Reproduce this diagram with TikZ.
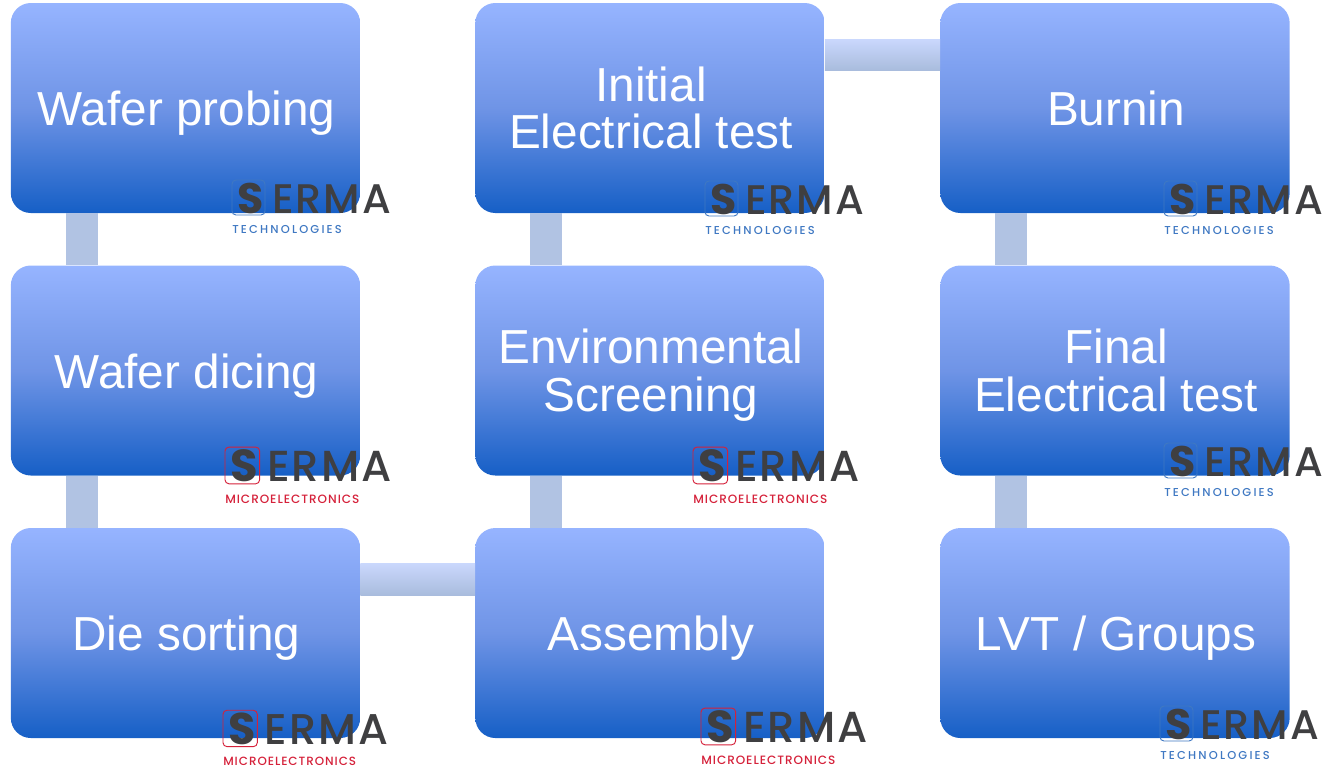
\documentclass[tikz,border=0pt]{standalone}
\usepackage{fontspec}
\setmainfont{Liberation Sans}
\newfontfamily\logobold{Poppins Bold}
\newfontfamily\logofont[LetterSpace=4.5]{Poppins Medium}
\newfontfamily\subblue[LetterSpace=19]{Poppins Medium}
\newfontfamily\subred[LetterSpace=8]{Poppins Medium}
\usetikzlibrary{calc}
\definecolor{boxtop}{HTML}{96B4FF}
\definecolor{boxmid}{HTML}{6F94E6}
\definecolor{boxbot}{HTML}{165FC6}
\definecolor{bartop}{HTML}{C9D7FC}
\definecolor{barbot}{HTML}{A9BCDD}
\definecolor{barflat}{HTML}{B1C3E3}
\definecolor{logogrey}{HTML}{3F3F41}
\definecolor{logoblue}{HTML}{3F78C2}
\definecolor{logored}{HTML}{D5213A}
\pgfdeclareverticalshading{boxshade}{100bp}{color(0bp)=(boxbot);color(25bp)=(boxbot);color(50bp)=(boxmid);color(75bp)=(boxtop);color(100bp)=(boxtop)}
\newcommand{\tl}[1]{\hspace*{1.5pt}\rule[-9pt]{0pt}{43.5pt}#1}
\newcommand{\ts}[1]{\hspace*{1.5pt}\rule[-9pt]{0pt}{44.5pt}#1}
\newcommand{\stepfont}{\fontsize{35.8}{35.7}\selectfont\lineskiplimit=-30pt\lineskip=0pt }
\tikzset{
  x=0.75pt,y=-0.75pt,
  stepbox/.style={minimum width=262.0pt,minimum height=157.5pt,inner sep=0pt,rounded corners=15pt,
    shading=boxshade,text=white,font=\stepfont,align=center},
  hbar/.style={top color=bartop,bottom color=barbot,draw=none},
  vbar/.style={fill=barflat,draw=none},
  logoS/.style={inner sep=0pt,anchor=base west,font=\logobold\fontsize{32}{32}\selectfont,text=logogrey},
  logoword/.style={inner sep=0pt,anchor=base west,font=\logofont\fontsize{31}{31}\selectfont,text=logogrey},
  logosub/.style={inner sep=0pt,anchor=base west,font=\fontsize{8.6}{9}\selectfont},
}
% name, x, y of the logo's left end and mid height, colour, subtitle font+text, scale, subtitle offset
\newcommand{\serma}[7]{%
  \begin{scope}[shift={(#2,#3)},scale=#6,transform shape]
  \node[logoS] (#1S) at (5,14) {S};
  \node[logoword] (#1w) at (40,14) {ERMA};
  \draw[#4,line width=0.7pt,rounded corners=3pt] ($(#1S.base west)+(-5,-33)$) rectangle ($(#1S.base west)+(28,2)$);
  \node[logosub,text=#4] (#1s) at ($(#1S.base west)+(-5,#7)$) {#5};
  \end{scope}
}
\begin{document}
\begin{tikzpicture}
\useasboundingbox (0,0) rectangle (1327,769);
\node[stepbox] (wp) at (185.5,108) {\ts{Wafer probing}};
\node[stepbox] (wd) at (185.5,370.5) {\ts{Wafer dicing}};
\node[stepbox] (ds) at (185.5,633) {\ts{Die sorting}};
\node[stepbox] (ie) at (650,108) {\tl{Initial}\\\tl{Electrical test}};
\node[stepbox] (es) at (650,370.5) {\tl{Environmental}\\\tl{Screening}};
\node[stepbox] (as) at (650,633) {\ts{Assembly}};
\node[stepbox] (bu) at (1115,108) {\ts{Burnin}};
\node[stepbox] (fe) at (1115,370.5) {\tl{Final}\\\tl{Electrical test}};
\node[stepbox] (lv) at (1115,633) {\ts{LVT / Groups}};
\path[vbar] ($(wp.south west)+(55,0)$) rectangle ($(wd.north west)+(87,0)$);
\path[vbar] ($(wd.south west)+(55,0)$) rectangle ($(ds.north west)+(87,0)$);
\path[vbar] ($(ie.south west)+(55,0)$) rectangle ($(es.north west)+(87,0)$);
\path[vbar] ($(es.south west)+(55,0)$) rectangle ($(as.north west)+(87,0)$);
\path[vbar] ($(bu.south west)+(55,0)$) rectangle ($(fe.north west)+(87,0)$);
\path[vbar] ($(fe.south west)+(55,0)$) rectangle ($(lv.north west)+(87,0)$);
\path[hbar] ($(ds.north east)+(0,36)$) rectangle ($(as.north west)+(0,67.5)$);
\path[hbar] ($(ie.north east)+(0,37)$) rectangle ($(bu.north west)+(0,67.5)$);
\serma{l1}{232}{199}{logoblue}{\subblue TECHNOLOGIES}{1}{20}
\serma{l2}{225}{467}{logored}{\subred MICROELECTRONICS}{1.05}{20.5}
\serma{l3}{223}{730}{logored}{\subred MICROELECTRONICS}{1.04}{20.5}
\serma{l4}{705}{200}{logoblue}{\subblue TECHNOLOGIES}{1}{20}
\serma{l5}{693}{467}{logored}{\subred MICROELECTRONICS}{1.05}{20.5}
\serma{l6}{701}{728}{logored}{\subred MICROELECTRONICS}{1.05}{20.5}
\serma{l7}{1164}{200}{logoblue}{\subblue TECHNOLOGIES}{1}{20}
\serma{l8}{1164}{462}{logoblue}{\subblue TECHNOLOGIES}{1}{20}
\serma{l9}{1160}{725}{logoblue}{\subblue TECHNOLOGIES}{1}{20}
\end{tikzpicture}
\end{document}
